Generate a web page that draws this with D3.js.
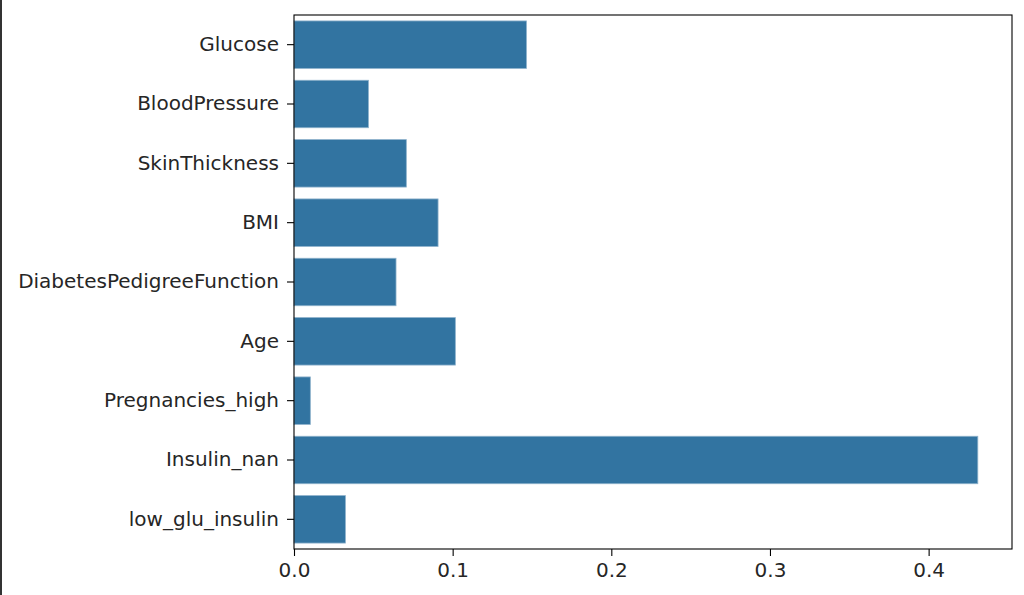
<!DOCTYPE html>
<html>
<head>
<meta charset="utf-8">
<script src="https://cdn.jsdelivr.net/npm/d3@7"></script>
<style>
  html, body { margin: 0; padding: 0; background: #fff; }
  svg { display: block; }
  text { font-family: "DejaVu Sans", sans-serif; fill: #262626; }
</style>
</head>
<body>
<script>
const categories = ["Glucose", "BloodPressure", "SkinThickness", "BMI", "DiabetesPedigreeFunction", "Age", "Pregnancies_high", "Insulin_nan", "low_glu_insulin"];
const importances = [0.1465, 0.0469, 0.0708, 0.0908, 0.0643, 0.1017, 0.0103, 0.4310, 0.0324];
const xTicks = [0.0, 0.1, 0.2, 0.3, 0.4];

(function () {
const W = 1024, H = 595;
const mLeft = 294, mRight = 1012, mTop = 15, mBottom = 549;

const svg = d3.select("body").append("svg").attr("width", W).attr("height", H);

// notebook output border on the left
svg.append("rect").attr("x", 0).attr("y", 0).attr("width", 2).attr("height", H).attr("fill", "#333");

const x = d3.scaleLinear().domain([0, d3.max(importances) * 1.05]).range([mLeft, mRight]);
const y = d3.scaleBand().domain(categories).range([mTop, mBottom]).paddingInner(0.2).paddingOuter(0.1);

const data = categories.map((c, i) => ({ c, v: importances[i] }));

svg.append("g").selectAll("rect").data(data).join("rect")
  .attr("x", x(0))
  .attr("y", d => y(d.c))
  .attr("width", d => x(d.v) - x(0))
  .attr("height", y.bandwidth())
  .attr("fill", "#3274a1")
  .attr("stroke", "#8db1cb")
  .attr("stroke-width", 0.8);

// y axis
const yAxis = d3.axisLeft(y).tickSize(7).tickPadding(8);
const gy = svg.append("g").attr("transform", `translate(${mLeft},0)`).call(yAxis);
gy.select(".domain").remove();
gy.selectAll(".tick line").attr("stroke", "#000").attr("stroke-width", 1.1);
gy.selectAll(".tick text").style("font-size", "20px").attr("fill", "#262626");

// x axis
const xAxis = d3.axisBottom(x).tickValues(xTicks).tickFormat(d3.format(".1f")).tickSize(7).tickPadding(7);
const gx = svg.append("g").attr("transform", `translate(0,${mBottom})`).call(xAxis);
gx.select(".domain").remove();
gx.selectAll(".tick line").attr("stroke", "#000").attr("stroke-width", 1.1);
gx.selectAll(".tick text").style("font-size", "20px").attr("fill", "#262626");

// frame
svg.append("rect").attr("x", mLeft).attr("y", mTop).attr("width", mRight - mLeft).attr("height", mBottom - mTop)
  .attr("fill", "none").attr("stroke", "#000").attr("stroke-width", 1.1);
})();
</script>
</body>
</html>
